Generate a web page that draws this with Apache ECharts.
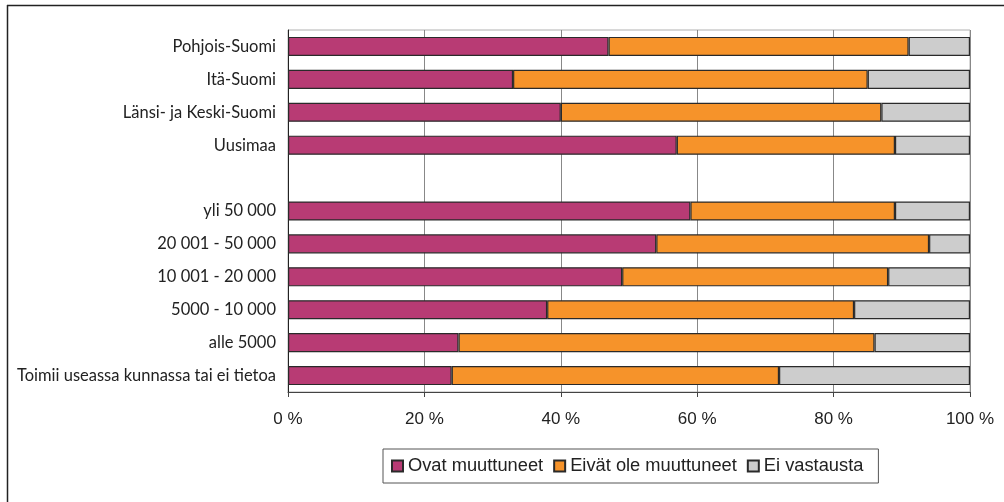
<!DOCTYPE html>
<html>
<head>
<meta charset="utf-8">
<script src="https://cdn.jsdelivr.net/npm/echarts@6/dist/echarts.min.js"></script>
<style>
html,body{margin:0;padding:0;background:#fff;}
#c{width:1004px;height:502px;}
</style>
</head>
<body>
<div id="c"></div>
<script>
const categories = ['Pohjois-Suomi','Itä-Suomi','Länsi- ja Keski-Suomi','Uusimaa','',
  'yli 50 000','20 001 - 50 000','10 001 - 20 000','5000 - 10 000','alle 5000',
  'Toimii useassa kunnassa tai ei tietoa'];
const ovat = [47,33,40,57,null,59,54,49,38,25,24];
const eivat = [44,52,47,32,null,30,40,39,45,61,48];
const eiVastausta = [9,15,13,11,null,11,6,12,17,14,28];
const xTicks = [0,20,40,60,80,100];
const seriesNames = ['Ovat muuttuneet','Eivät ole muuttuneet','Ei vastausta'];
const colors = ['#b83b74','#f6932a','#cdcdcd'];

const chart = echarts.init(document.getElementById('c'), null, {renderer:'canvas'});
const mk = (name, data, color) => ({
  name, type:'bar', stack:'total', data, barWidth:'58%',
  itemStyle:{color, borderColor:'#2a2a2a', borderWidth:1.2},
  emphasis:{disabled:true}
});
chart.setOption({
  animation:false,
  backgroundColor:'#fff',
  grid:{left:288,right:34,top:30,bottom:110,show:true,borderColor:'#b0b0b0',borderWidth:1},
  xAxis:{type:'value',min:xTicks[0],max:xTicks[xTicks.length-1],interval:20,
    axisLine:{show:true,lineStyle:{color:'#444',width:1}},
    axisTick:{show:true,length:5,lineStyle:{color:'#444'}},
    splitLine:{show:true,lineStyle:{color:'#888',width:1}},
    axisLabel:{formatter:'{value} %',margin:19,fontFamily:'Liberation Sans, Arial',fontSize:17,color:'#222'}
  },
  yAxis:{type:'category',data:categories,inverse:true,
    axisLine:{show:true,lineStyle:{color:'#222',width:1}},
    axisTick:{show:false},
    axisLabel:{margin:12,fontFamily:'Lato, Open Sans',fontSize:16.5,color:'#222'}
  },
  legend:{left:383,top:449,height:35,
    data:seriesNames,
    itemWidth:11,itemHeight:11,itemGap:10,
    borderColor:'#555',borderWidth:1,padding:[8,15,8,8],
    textStyle:{fontFamily:'Liberation Sans, Arial',fontSize:18.3,color:'#222'},
    icon:'rect'
  },
  series:[mk(seriesNames[0],ovat,colors[0]),mk(seriesNames[1],eivat,colors[1]),mk(seriesNames[2],eiVastausta,colors[2])],
  graphic:[
    {type:'line',shape:{x1:7,y1:5.5,x2:1004,y2:5.5},style:{stroke:'#222',lineWidth:1.5}},
    {type:'line',shape:{x1:7.5,y1:5,x2:7.5,y2:502},style:{stroke:'#222',lineWidth:1.5}}
  ]
});
</script>
</body>
</html>
